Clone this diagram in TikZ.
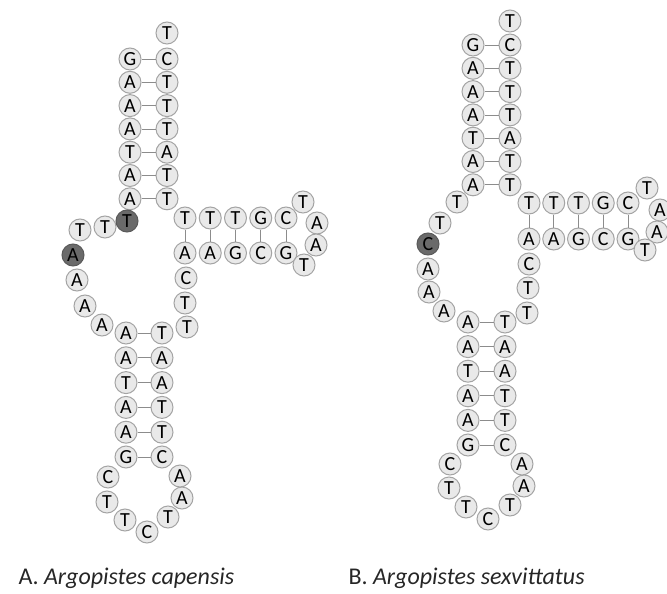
\documentclass[tikz,border=0pt]{standalone}
\usepackage{fontspec}
\setmainfont{Carlito}
\definecolor{ntfill}{HTML}{E9E9E9}
\definecolor{ntline}{HTML}{A4A4A4}
\definecolor{ntdark}{HTML}{6A6A6A}
\definecolor{bpline}{HTML}{8C8C8C}
\tikzset{
  nt/.style={circle,draw=ntline,fill=ntfill,line width=1pt,minimum size=22pt,
    inner sep=0pt,font=\fontsize{20}{20}\selectfont,text=black},
  ntd/.style={nt,fill=ntdark,draw=ntdark!85!black},
  bp/.style={bpline,line width=0.8pt},
  caption/.style={anchor=base west,font=\fontsize{24}{24}\selectfont,text=black!85}
}
\begin{document}
\begin{tikzpicture}[x=1pt,y=-1pt]
\useasboundingbox (0,0) rectangle (667,594);
% A. capensis
\node[nt] (aTop) at (167,33) {T};
\foreach \l/\r [count=\i] in {G/C,A/T,A/T,A/T,T/A,A/T,A/T} {
  \node[nt] (a1l\i) at (130,{59+23.3*(\i-1)}) {\l};
  \node[nt] (a1r\i) at (167,{59+23.3*(\i-1)}) {\r};
  \draw[bp] (a1l\i) -- (a1r\i);
}
\foreach \t/\b [count=\i] in {T/A,T/A,T/G,G/C,C/G} {
  \node[nt] (a2t\i) at ({185+25.25*(\i-1)},218) {\t};
  \node[nt] (a2b\i) at ({185+25.25*(\i-1)},253) {\b};
  \draw[bp] (a2t\i) -- (a2b\i);
}
\node[nt] (a2h1) at (303,202) {T};
\node[nt] (a2h2) at (317,223) {A};
\node[nt] (a2h3) at (316,245) {A};
\node[nt] (a2h4) at (304,265) {T};
\node[nt] (aM9) at (186,278) {C};
\node[nt] (aM10) at (185,303) {T};
\node[nt] (aM11) at (187,327) {T};
\foreach \l/\r [count=\i] in {A/T,A/A,T/A,A/T,A/T,G/C} {
  \node[nt] (a3l\i) at (126,{333+24.8*(\i-1)}) {\l};
  \node[nt] (a3r\i) at (162,{333+24.8*(\i-1)}) {\r};
  \draw[bp] (a3l\i) -- (a3r\i);
}
\node[nt] (a3h1) at (108,477) {C};
\node[nt] (a3h2) at (107,502) {T};
\node[nt] (a3h3) at (125,520) {T};
\node[nt] (a3h4) at (147,532) {C};
\node[nt] (a3h5) at (168,517) {T};
\node[nt] (a3h6) at (182,498) {A};
\node[nt] (a3h7) at (180,476) {A};
\node[nt] (aM7) at (102,325) {A};
\node[nt] (aM6) at (85,306) {A};
\node[nt] (aM5) at (77,280) {A};
\node[ntd] (aM4) at (73,255) {A};
\node[nt] (aM3) at (80,230) {T};
\node[nt] (aM2) at (105,227) {T};
\node[ntd] (aM1) at (127,221) {T};
% B. sexvittatus
\node[nt] (bTop) at (510,21) {T};
\foreach \l/\r [count=\i] in {G/C,A/T,A/T,A/T,T/A,A/T,A/T} {
  \node[nt] (b1l\i) at (473,{45+23.3*(\i-1)}) {\l};
  \node[nt] (b1r\i) at (510,{45+23.3*(\i-1)}) {\r};
  \draw[bp] (b1l\i) -- (b1r\i);
}
\foreach \t/\b [count=\i] in {T/A,T/A,T/G,G/C,C/G} {
  \node[nt] (b2t\i) at ({529+24.75*(\i-1)},203) {\t};
  \node[nt] (b2b\i) at ({529+24.75*(\i-1)},239) {\b};
  \draw[bp] (b2t\i) -- (b2b\i);
}
\node[nt] (b2h1) at (647,188) {T};
\node[nt] (b2h2) at (660,210) {A};
\node[nt] (b2h3) at (657,232) {A};
\node[nt] (b2h4) at (645,250) {T};
\node[nt] (bM8) at (529,264) {C};
\node[nt] (bM9) at (528,288) {T};
\node[nt] (bM10) at (527,313) {T};
\foreach \l/\r [count=\i] in {A/T,A/A,T/A,A/T,A/T,G/C} {
  \node[nt] (b3l\i) at (468,{322+24.6*(\i-1)}) {\l};
  \node[nt] (b3r\i) at (505,{322+24.6*(\i-1)}) {\r};
  \draw[bp] (b3l\i) -- (b3r\i);
}
\node[nt] (b3h1) at (450,464) {C};
\node[nt] (b3h2) at (449,488) {T};
\node[nt] (b3h3) at (466,507) {T};
\node[nt] (b3h4) at (488,519) {C};
\node[nt] (b3h5) at (510,505) {T};
\node[nt] (b3h6) at (524,486) {A};
\node[nt] (b3h7) at (522,464) {A};
\node[nt] (bM6) at (444,311) {A};
\node[nt] (bM5) at (429,292) {A};
\node[nt] (bM4) at (428,269) {A};
\node[ntd] (bM3) at (428,244) {C};
\node[nt] (bM2) at (440,223) {T};
\node[nt] (bM1) at (457,202) {T};
\node[caption] (capA) at (15,584) {A. \textit{Argopistes capensis}};
\node[caption] (capB) at (345,584) {B. \textit{Argopistes sexvittatus}};
\end{tikzpicture}
\end{document}
